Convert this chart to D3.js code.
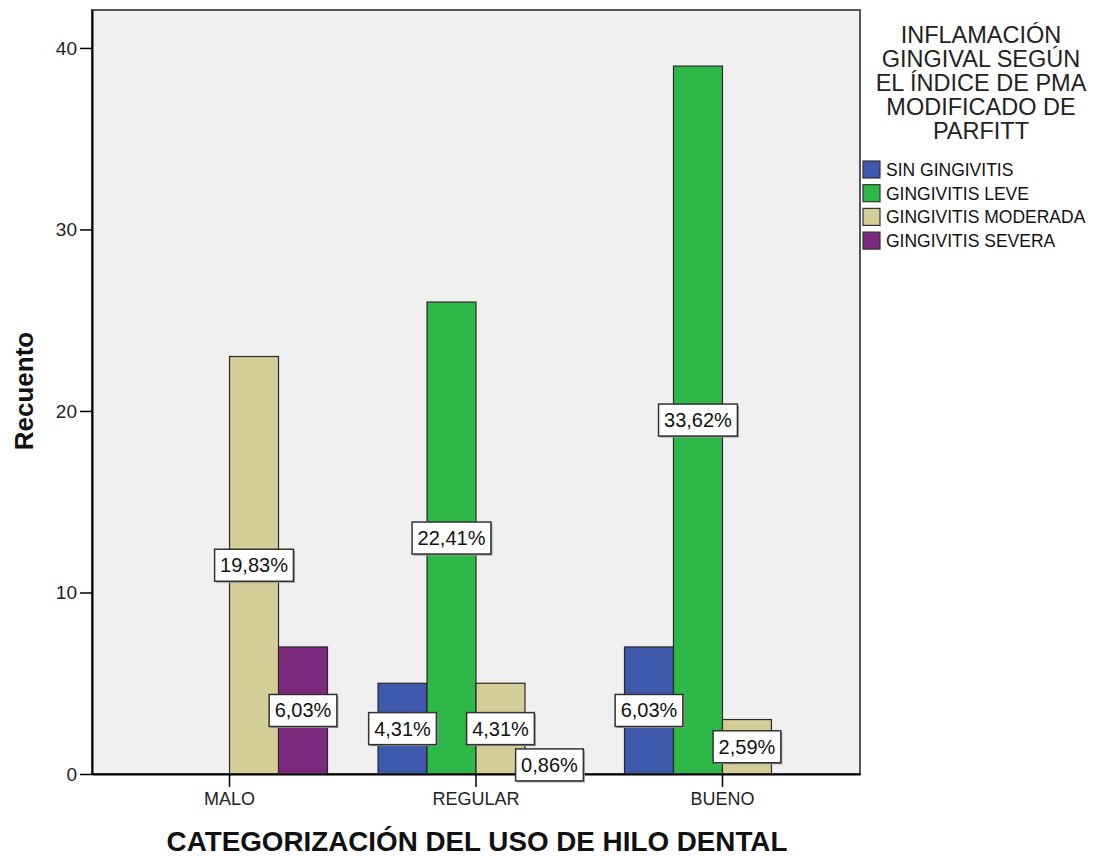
<!DOCTYPE html>
<html><head><meta charset="utf-8">
<script src="https://cdn.jsdelivr.net/npm/d3@7"></script>
<style>
body{margin:0;background:#fff;}
svg text{font-family:"Liberation Sans",Arial,sans-serif;}
</style></head>
<body><svg id="c" width="1102" height="857"></svg>
<script>
const categories = ["MALO", "REGULAR", "BUENO"];
const series = ["SIN GINGIVITIS", "GINGIVITIS LEVE", "GINGIVITIS MODERADA", "GINGIVITIS SEVERA"];
const sinGingivitis = [0, 5, 7];
const gingivitisLeve = [0, 26, 39];
const gingivitisModerada = [23, 5, 3];
const gingivitisSevera = [7, 1, 0];
const percentLabels = [
  [null, null, "19,83%", "6,03%"],
  ["4,31%", "22,41%", "4,31%", "0,86%"],
  ["6,03%", "33,62%", "2,59%", null]
];
const yTicks = [0, 10, 20, 30, 40];
const colors = ["#3E58AC", "#2EB848", "#D3CE97", "#7C287D"];
const legendTitle = ["INFLAMACIÓN", "GINGIVAL SEGÚN", "EL ÍNDICE DE PMA", "MODIFICADO DE", "PARFITT"];

const values = [sinGingivitis, gingivitisLeve, gingivitisModerada, gingivitisSevera];

const svg = d3.select("#c");
const L = 92, R = 860, T = 10, B = 774;

const x0 = d3.scaleBand().domain(categories).range([L, R]).paddingOuter(0.058).paddingInner(0);
const groupW = x0.bandwidth() * 0.795;
const x1 = d3.scaleBand().domain(series).range([0, groupW]);
const y = d3.scaleLinear().domain([0, 42.09]).range([B, T]);

// plot background
svg.append("rect").attr("x", L).attr("y", T).attr("width", R - L).attr("height", B - T)
  .attr("fill", "#F0F0F0");

// bars
const data = [];
categories.forEach((c, ci) => {
  series.forEach((s, si) => {
    data.push({c, s, si, v: values[si][ci], lab: percentLabels[ci][si]});
  });
});
const gx = d => x0(d.c) + x0.bandwidth() / 2 - groupW / 2 + x1(d.s);

svg.append("g").selectAll("rect").data(data.filter(d => d.v > 0)).join("rect")
  .attr("x", gx).attr("y", d => y(d.v))
  .attr("width", x1.bandwidth()).attr("height", d => y(0) - y(d.v))
  .attr("fill", d => colors[d.si]).attr("stroke", "#2a2a2a").attr("stroke-width", 1.2);

// frame
svg.append("rect").attr("x", L).attr("y", T).attr("width", R - L).attr("height", B - T)
  .attr("fill", "none").attr("stroke", "#555").attr("stroke-width", 2);

// axes
const yAxis = svg.append("g").attr("transform", `translate(${L},0)`)
  .call(d3.axisLeft(y).tickValues(yTicks).tickSize(12).tickSizeOuter(0).tickPadding(3).tickFormat(d3.format("d")));
yAxis.select(".domain").attr("stroke", "#000").attr("stroke-width", 2);
yAxis.selectAll(".tick line").attr("stroke", "#000").attr("stroke-width", 1.5);
yAxis.selectAll("text").attr("font-size", 19).attr("fill", "#222").attr("font-family", "Liberation Sans, Arial, sans-serif");

const xAxis = svg.append("g").attr("transform", `translate(0,${B})`)
  .call(d3.axisBottom(x0).tickSize(13).tickPadding(5).tickSizeOuter(0));
xAxis.select(".domain").attr("stroke", "#000").attr("stroke-width", 2);
xAxis.selectAll(".tick line").attr("stroke", "#000").attr("stroke-width", 1.5);
xAxis.selectAll("text").attr("font-size", 18).attr("fill", "#222").attr("font-family", "Liberation Sans, Arial, sans-serif");

// value labels
const lg = svg.append("g");
data.filter(d => d.lab).forEach(d => {
  const cx = gx(d) + x1.bandwidth() / 2;
  const cy = y(d.v / 2);
  const t = lg.append("text").attr("x", cx).attr("y", cy + 7).attr("text-anchor", "middle")
    .attr("font-size", 20).attr("fill", "#111").text(d.lab);
  const w = t.node().getComputedTextLength() + 11;
  const h = 32;
  lg.insert("rect", "text").attr("x", cx - w / 2 + 1.5).attr("y", cy - h / 2 + 1.5)
    .attr("width", w).attr("height", h).attr("fill", "#9a9a9a");
  lg.insert("rect", "text").attr("x", cx - w / 2).attr("y", cy - h / 2)
    .attr("width", w).attr("height", h).attr("fill", "#fff").attr("stroke", "#333").attr("stroke-width", 1.5);
});

// axis titles
svg.append("text").attr("transform", "translate(33,391) rotate(-90)")
  .attr("text-anchor", "middle").attr("font-size", 26).attr("font-weight", "bold").attr("fill", "#111")
  .text("Recuento");
svg.append("text").attr("x", 477).attr("y", 851).attr("text-anchor", "middle")
  .attr("font-size", 27.8).attr("font-weight", "bold").attr("fill", "#111")
  .text("CATEGORIZACIÓN DEL USO DE HILO DENTAL");

// legend
const leg = svg.append("g");
legendTitle.forEach((line, i) => {
  leg.append("text").attr("x", 981).attr("y", 43 + i * 24).attr("text-anchor", "middle")
    .attr("font-size", 23.5).attr("fill", "#222").text(line);
});
series.forEach((s, i) => {
  const yy = 161 + i * 23.7;
  leg.append("rect").attr("x", 863).attr("y", yy).attr("width", 17).attr("height", 17)
    .attr("fill", colors[i]).attr("stroke", "#333").attr("stroke-width", 1.2);
  leg.append("text").attr("x", 886).attr("y", yy + 15).attr("font-size", 17.5).attr("fill", "#111").text(s);
});
</script></body></html>
